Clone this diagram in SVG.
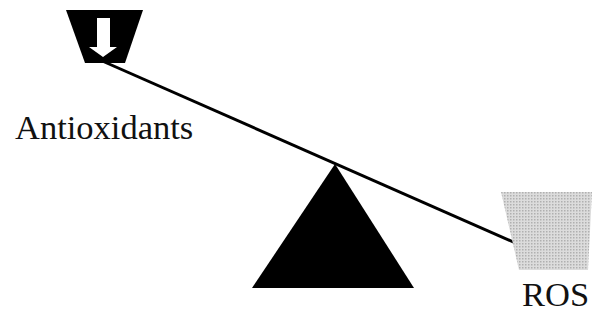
<svg xmlns="http://www.w3.org/2000/svg" width="604" height="321" viewBox="0 0 604 321">
<style>
.lbl{font-family:"Liberation Serif","Times New Roman",serif;font-size:34.5px;fill:#111}
</style>
<defs>
<pattern id="dots" width="3" height="3" patternUnits="userSpaceOnUse">
<rect width="3" height="3" fill="#dcdcdc"/>
<rect width="1.5" height="1.5" fill="#b0b0b0"/>
</pattern>
</defs>
<rect width="604" height="321" fill="#fff"/>
<g id="connectors">
<line x1="100" y1="60" x2="520" y2="245" stroke="#000" stroke-width="3"/>
</g>
<g id="fulcrum">
<polygon points="335,164 252,288 414,288" fill="#000"/>
</g>
<g id="antioxidants">
<polygon points="66,10 143,10 125,63 85,63" fill="#000"/>
<polygon points="97,18 110,18 110,47 117,47 103,57 89,47 97,47" fill="#fff"/>
<text class="lbl" x="15" y="139">Antioxidants</text>
</g>
<g id="ros">
<polygon points="501,192 592,192 588,270 519,270" fill="url(#dots)"/>
<text class="lbl" x="522" y="306">ROS</text>
</g>
</svg>
